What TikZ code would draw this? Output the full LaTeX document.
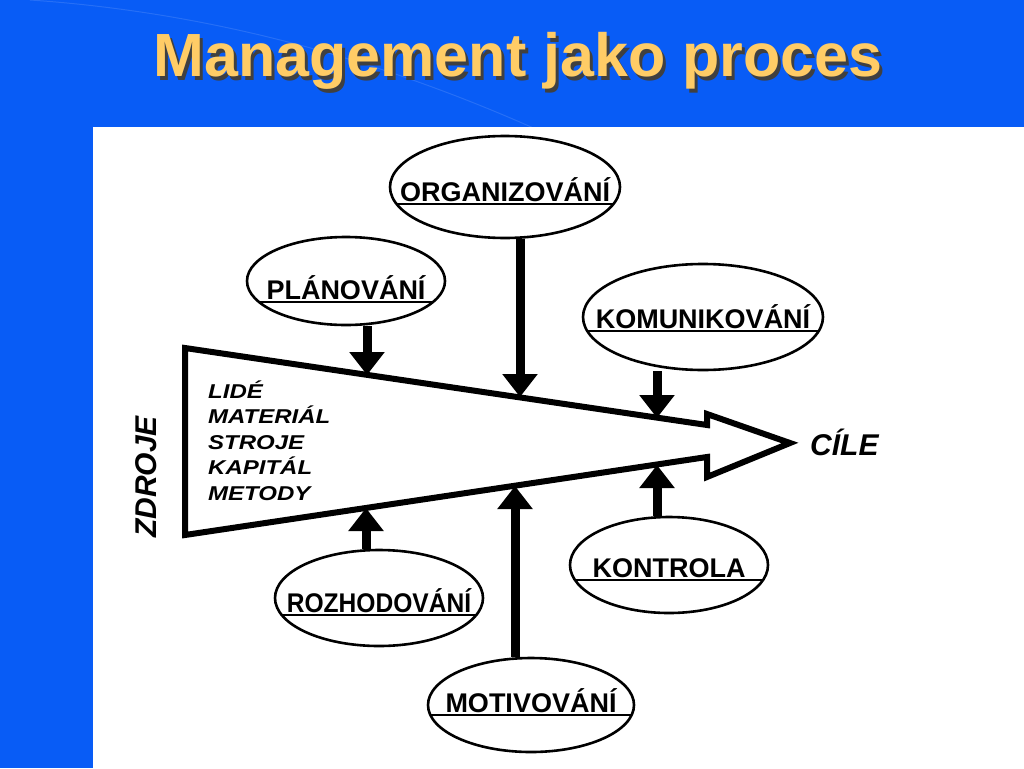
\documentclass[tikz,border=0pt]{standalone}
\usepackage{fontspec}
\setmainfont{Liberation Sans}
\newfontfamily\rucne[FakeStretch=1.2]{Liberation Sans}
\usetikzlibrary{shapes.geometric, arrows.meta, positioning, calc}
\definecolor{pozadi}{RGB}{8,92,246}
\definecolor{zluta}{RGB}{255,204,102}
\tikzstyle{cinnost} = [ellipse, draw=black, line width=2.6pt, inner sep=0pt]
\tikzstyle{popis} = [font=\fontsize{27}{30}\selectfont\bfseries, anchor=base, inner sep=0pt]
\tikzstyle{sipka} = [line width=9pt, -{Triangle[width=34pt,length=23pt]}]
\tikzstyle{ruka} = [font=\fontsize{20}{25}\selectfont\rucne\bfseries\itshape, inner sep=0pt]
\tikzstyle{velka} = [font=\fontsize{30}{30}\selectfont\bfseries\itshape, inner sep=0pt]
\tikzstyle{titul} = [font=\fontsize{61}{70}\selectfont\bfseries, anchor=base, inner sep=0pt]
\newcommand{\stinovany}[1]{\makebox[0pt][l]{\hspace{3pt}\raisebox{-3pt}{\color{black!75}#1}}{\color{zluta}#1}}

\begin{document}
\begin{tikzpicture}[x=1pt, y=-1pt]
    % Pozadi a bily panel
    \useasboundingbox (0,0) rectangle (1024,768);
    \fill[pozadi] (0,0) rectangle (1024,768);
    \draw[white, opacity=0.12, line width=1pt] (30,0) .. controls (250,15) and (430,80) .. (560,140);
    \fill[white] (93,127) rectangle (1024,768);

    % Nadpis
    \node[titul] (titulek) at (518,77) {\stinovany{Management jako proces}};

    % Sipka procesu
    \draw[line width=6pt, line join=miter] (185,348) -- (707,425) -- (707,414) -- (790,443)
        -- (707,477) -- (707,457) -- (185,535) -- cycle;
    \coordinate (h1) at (367,375);
    \coordinate (h2) at (520,397);
    \coordinate (h3) at (657,418);
    \coordinate (d1) at (366,508);
    \coordinate (d2) at (515,486);
    \coordinate (d3) at (657,465);

    % Zdroje
    \node[velka, rotate=90] (zdroje) at (146,477) {ZDROJE};
    \foreach \polozka [count=\i] in {LIDÉ,MATERIÁL,STROJE,KAPITÁL,METODY}
        \node[ruka, anchor=base west] (zdroj-\i) at (208,372.5+25.5*\i) {\polozka};
    \node[velka, anchor=base west] (cile) at (810,455) {CÍLE};

    % Cinnosti
    \foreach \jm/\x/\y/\rx/\ry/\d/\txt in {plan/346/281/99/44/21/PLÁNOVÁNÍ,
        org/505/187/115/51/17/ORGANIZOVÁNÍ, kom/703/317/120/53/14/KOMUNIKOVÁNÍ,
        roz/379/598/104/48/17/{\scalebox{0.91}[1]{ROZHODOVÁNÍ}}, kon/669/565/99/48/15/KONTROLA,
        mot/531/705/103/47/10/MOTIVOVÁNÍ} {
        \node[cinnost, minimum width=2*\rx, minimum height=2*\ry] (\jm) at (\x,\y) {};
        \node[popis] (\jm-text) at (\x,\y+\d-3) {\txt};
        \begin{scope}
            \clip (\x,\y) ellipse ({\rx} and {\ry});
            \draw[line width=2.6pt] (\x-\rx,\y+\d) -- (\x+\rx,\y+\d);
        \end{scope}
    }

    % Sipky
    \draw[sipka] (plan.south -| h1) -- (h1);
    \draw[sipka] (org.south -| h2) -- (h2);
    \draw[sipka] (kom.south -| h3) -- (h3);
    \draw[sipka] (roz.north -| d1) -- (d1);
    \draw[sipka] (mot.north -| d2) -- (d2);
    \draw[sipka] (kon.north -| d3) -- (d3);
\end{tikzpicture}
\end{document}
